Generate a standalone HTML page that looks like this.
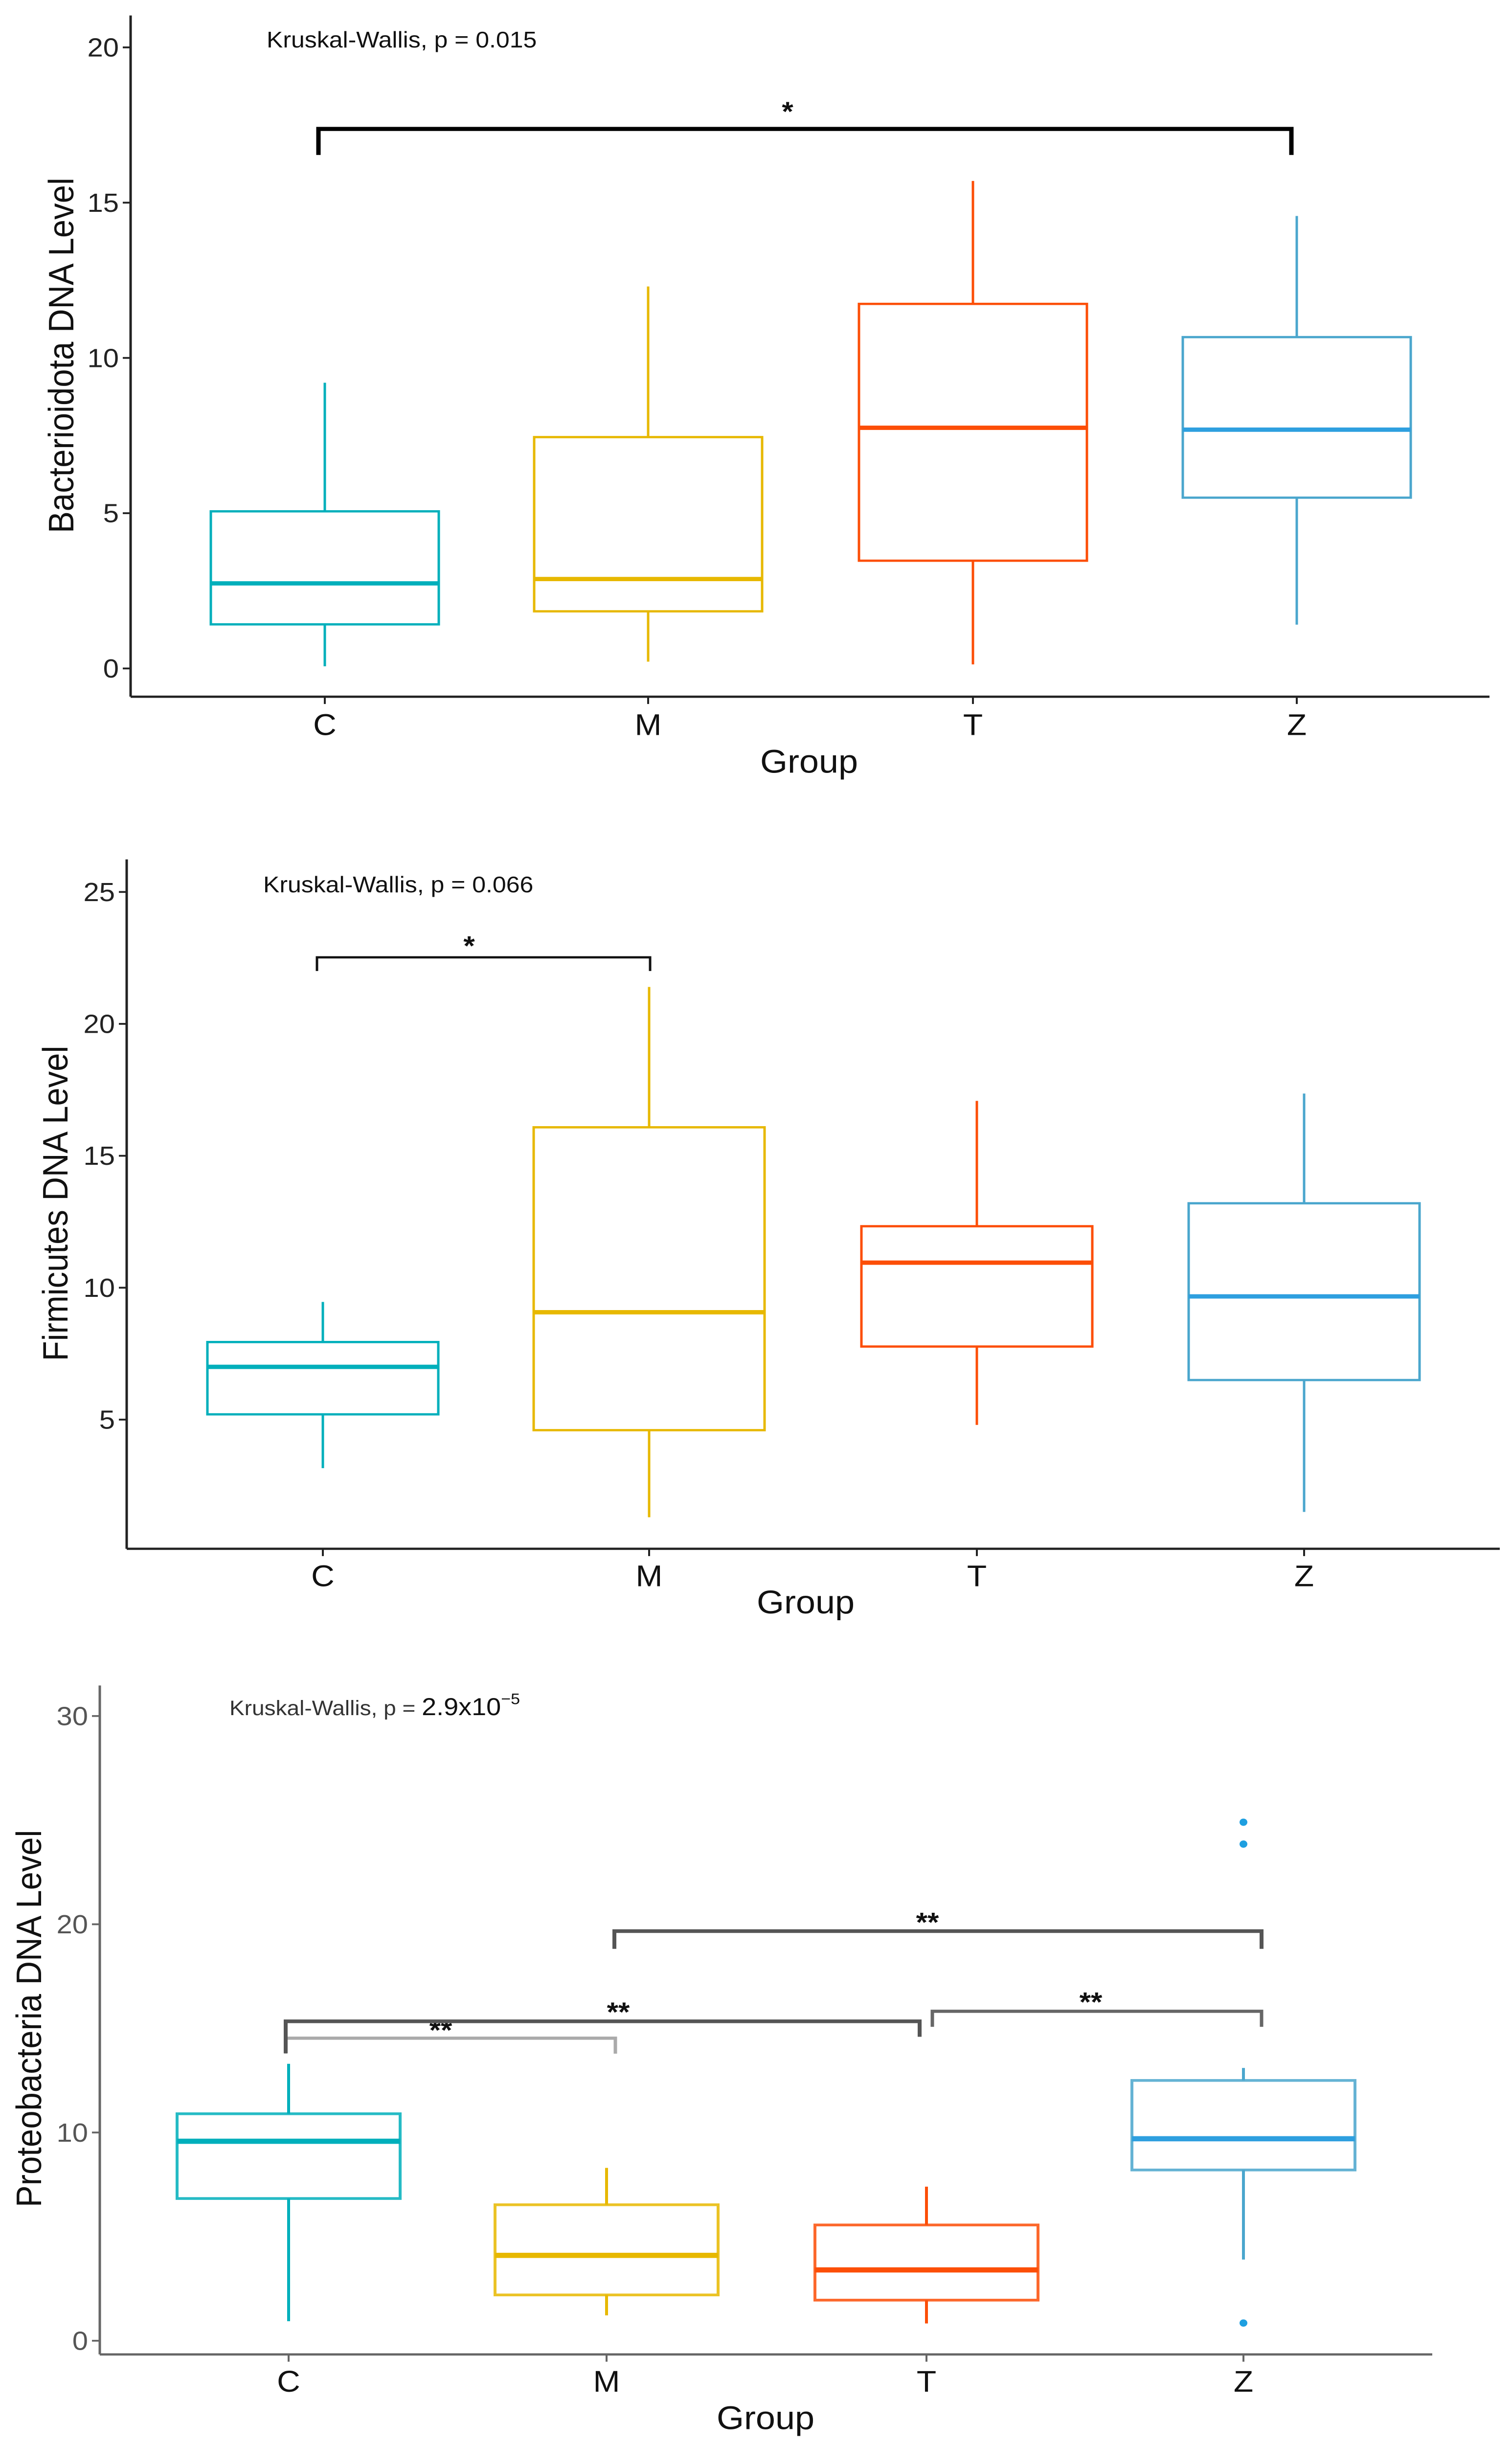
<!DOCTYPE html>
<html><head><meta charset="utf-8"><style>
html,body{margin:0;padding:0;background:#fff;overflow:hidden}
svg{display:block;position:fixed;left:0;top:0;width:100vw;height:100vh}
text{font-family:"Liberation Sans",Arial,sans-serif}
</style></head><body>
<svg id="chart" viewBox="0 0 3091 5368" preserveAspectRatio="none" xmlns="http://www.w3.org/2000/svg"></svg>
<script>
// ---- shared categories ----
const cats = ["C","M","T","Z"];
const catColors = ["#00AFBB","#E7B800","#FC4E07","#4AA6CD"];
const medColors = ["#00AFBB","#E7B800","#FC4E07","#2E9FDF"];

// ---- Panel 1: Bacterioidota ----
const p1Low  = [0.07, 0.22, 0.13, 1.41];
const p1Q1   = [1.42, 1.84, 3.47, 5.5];
const p1Med  = [2.74, 2.88, 7.75, 7.69];
const p1Q3   = [5.06, 7.45, 11.74, 10.67];
const p1High = [9.2, 12.3, 15.7, 14.57];
const p1Ticks = [0,5,10,15,20];

// ---- Panel 2: Firmicutes ----
const p2Low  = [3.16, 1.3, 4.8, 1.5];
const p2Q1   = [5.2, 4.6, 7.77, 6.5];
const p2Med  = [7.0, 9.07, 10.95, 9.67];
const p2Q3   = [7.94, 16.08, 12.33, 13.2];
const p2High = [9.46, 21.4, 17.08, 17.36];
const p2Ticks = [5,10,15,20,25];

// ---- Panel 3: Proteobacteria ----
const p3Low  = [0.94, 1.22, 0.83, 3.9];
const p3Q1   = [6.83, 2.2, 1.95, 8.2];
const p3Med  = [9.58, 4.1, 3.4, 9.7];
const p3Q3   = [10.9, 6.53, 5.56, 12.5];
const p3High = [13.3, 8.3, 7.4, 13.1];
const p3Ticks = [0,10,20,30];
const p3OutCat = [3,3,3];
const p3OutVal = [24.9, 23.85, 0.85];

const NS="http://www.w3.org/2000/svg";
const svg=document.getElementById('chart');
function mk(tag,attrs,parent){const e=document.createElementNS(NS,tag);for(const k in attrs)e.setAttribute(k,attrs[k]);(parent||svg).appendChild(e);return e;}

function panel(cfg, lows,q1s,meds,q3s,highs,ticks){
  const g=mk('g',{});
  
  
  const y=v=>cfg.y0-v*cfg.k;
  const x=i=>cfg.cx[i];
  const ink=cfg.ink;
  const ya=mk('line',{x1:cfg.ax,y1:cfg.top,x2:cfg.ax,y2:cfg.axisY,stroke:ink,'stroke-width':5},g);
  
  
  const xa=mk('line',{x1:cfg.ax,y1:cfg.axisY,x2:cfg.right,y2:cfg.axisY,stroke:ink,'stroke-width':5},g);
  
  
  ticks.forEach(t=>{
    mk('line',{x1:cfg.ax-16,y1:y(t),x2:cfg.ax,y2:y(t),stroke:ink,'stroke-width':4},g);
    const tl=mk('text',{x:cfg.ax-24,y:y(t)+20,'font-size':58,'text-anchor':'end',fill:cfg.tickInk},g);
    tl.textContent=t;
    
    
  });
  cats.forEach((c,i)=>{
    mk('line',{x1:x(i),y1:cfg.axisY,x2:x(i),y2:cfg.axisY+16,stroke:ink,'stroke-width':4},g);
    const cl=mk('text',{x:x(i),y:cfg.catY+23,'font-size':66,'text-anchor':'middle',fill:'#111'},g);
    cl.textContent=c;
    
    
    const bg=mk('g',{},g);
    
    
    const col=catColors[i], sw=cfg.sw;
    mk('line',{x1:x(i),y1:y(highs[i]),x2:x(i),y2:y(q3s[i]),stroke:col,'stroke-width':sw},bg);
    mk('line',{x1:x(i),y1:y(q1s[i]),x2:x(i),y2:y(lows[i]),stroke:col,'stroke-width':sw},bg);
    mk('rect',{x:x(i)-cfg.hw,y:y(q3s[i]),width:2*cfg.hw,height:y(q1s[i])-y(q3s[i]),fill:'none',stroke:col,'stroke-width':sw,opacity:cfg.op},bg);
    mk('line',{x1:x(i)-cfg.hw,y1:y(meds[i]),x2:x(i)+cfg.hw,y2:y(meds[i]),stroke:medColors[i],'stroke-width':sw*1.9},bg);
  });
  const yt=mk('text',{x:0,y:0,'font-size':72,'text-anchor':'middle',fill:'#111',transform:`translate(${cfg.ytX},${cfg.ytY}) rotate(-90)`},g);
  yt.textContent=cfg.ytitle;
  
  
  const xt=mk('text',{x:cfg.gX,y:cfg.gY+25,'font-size':72,'text-anchor':'middle',fill:'#111'},g);
  xt.textContent='Group';
  
  
  return {g,y,x};
}

function bracket(g,x1,x2,yy,d1,d2,label,lx,ly,col,w){
  const b=mk('g',{},g);
  
  
  mk('path',{d:`M${x1} ${yy+d1} L${x1} ${yy} L${x2} ${yy} L${x2} ${yy+d2}`,fill:'none',stroke:col,'stroke-width':w},b);
  const t=mk('text',{x:lx,y:ly+24,'font-size':60,'text-anchor':'middle',fill:'#111','font-weight':'bold'},b);
  t.textContent=label;
}

// Panel 1
const P1=panel({name:'bacterioidota-panel',y0:1467,k:68.15,cx:[664,1325,1989,2651],hw:233,ax:267,top:34,axisY:1529,right:3045,ink:'#222',tickInk:'#222',sw:5,op:1,ytitle:'Bacterioidota DNA Level',ytX:150,ytY:780,gX:1654,gY:1671,catY:1590},p1Low,p1Q1,p1Med,p1Q3,p1High,p1Ticks);
bracket(P1.g,651,2640,283,57,57,'*',1610,241,'#000',9);
const k1=mk('text',{x:545,y:104,'font-size':50,fill:'#111'},P1.g);
k1.textContent='Kruskal-Wallis, p = 0.015';



// Panel 2
const P2=panel({name:'firmicutes-panel',y0:3405,k:57.9,cx:[660,1327,1997,2666],hw:236,ax:259,top:1886,axisY:3399,right:3066,ink:'#222',tickInk:'#222',sw:5,op:1,ytitle:'Firmicutes DNA Level',ytX:138,ytY:2641,gX:1647,gY:3516,catY:3458},p2Low,p2Q1,p2Med,p2Q3,p2High,p2Ticks);
bracket(P2.g,648,1329,2101,30,30,'*',959,2072,'#111',5);
const k2=mk('text',{x:538,y:1958,'font-size':50,fill:'#111'},P2.g);
k2.textContent='Kruskal-Wallis, p = 0.066';



// Panel 3
const P3=panel({name:'proteobacteria-panel',y0:5137,k:45.7,cx:[590,1240,1894,2542],hw:228,ax:204,top:3699,axisY:5167,right:2928,ink:'#666',tickInk:'#555',sw:6,op:0.85,ytitle:'Proteobacteria DNA Level',ytX:84,ytY:4430,gX:1565,gY:5306,catY:5226},p3Low,p3Q1,p3Med,p3Q3,p3High,p3Ticks);
p3OutCat.forEach((ci,j)=>{
  const o=mk('circle',{cx:P3.x(ci),cy:P3.y(p3OutVal[j]),r:8,fill:'#1E9FE0'},P3.g);
  
  
});
bracket(P3.g,584,1258,4473,34,34,'**',901,4452,'#aaa',7);
bracket(P3.g,584,1880,4436,70,34,'**',1264,4412,'#555',8);
bracket(P3.g,1906,2579,4414,34,34,'**',2230,4390,'#666',7);
bracket(P3.g,1256,2579,4238,39,39,'**',1896,4215,'#555',8);
const k3=mk('text',{x:469,y:3764,'font-size':46,fill:'#333'},P3.g);
k3.textContent='Kruskal-Wallis, p = ';


const k3b=mk('tspan',{'font-size':54,fill:'#111'},k3);k3b.textContent='2.9x10';
const k3c=mk('tspan',{'font-size':34,dy:-24,fill:'#111'},k3);k3c.textContent='−5';
</script>
</body></html>
